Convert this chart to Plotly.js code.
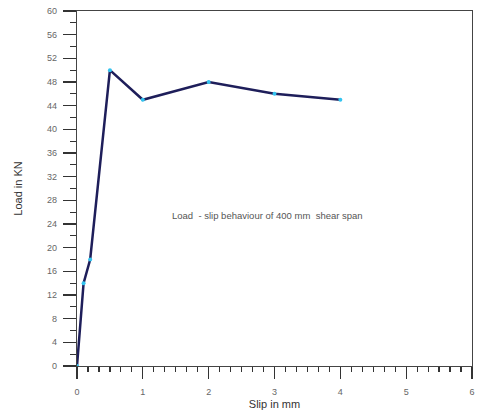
<!DOCTYPE html>
<html>
<head>
<meta charset="utf-8">
<script src="https://cdn.plot.ly/plotly-3.0.1.min.js"></script>
<style>html,body{margin:0;padding:0;background:#fff;}#chart{width:478px;height:411px;}</style>
</head>
<body>
<div id="chart"></div>
<script>
var slip = [0, 0.1, 0.2, 0.5, 1, 2, 3, 4];
var load = [0, 14, 18, 50, 45, 48, 46, 45];
var xTickVals = [0, 1, 2, 3, 4, 5, 6];
var yTickVals = [0, 4, 8, 12, 16, 20, 24, 28, 32, 36, 40, 44, 48, 52, 56, 60];

var trace = {
  x: slip, y: load, type: 'scatter', mode: 'lines+markers',
  line: {color: '#1e1e5a', width: 2.5},
  marker: {color: '#33c4f0', size: 4},
  hoverinfo: 'skip'
};

var layout = {
  width: 478, height: 411,
  margin: {l: 77, r: 6, t: 11, b: 45},
  paper_bgcolor: '#fff', plot_bgcolor: '#fff',
  showlegend: false,
  font: {family: 'Liberation Sans, Arial, sans-serif', color: '#555'},
  xaxis: {
    range: [0, 6], tickvals: xTickVals, ticktext: xTickVals.map(String),
    showgrid: false, zeroline: false,
    showline: true, linecolor: '#444', linewidth: 1.3, mirror: true,
    ticks: 'outside', ticklen: 12, tickwidth: 1.3, tickcolor: '#333',
    ticklabelstandoff: 5,
    tickfont: {size: 9, color: '#666'},
    minor: {dtick: 1/6, ticks: 'outside', ticklen: 5, tickwidth: 1.2, tickcolor: '#333', showgrid: false},
    title: {text: 'Slip in mm', font: {size: 11, color: '#333'}, standoff: 4}
  },
  yaxis: {
    range: [0, 60], tickvals: yTickVals, ticktext: yTickVals.map(String),
    showgrid: false, zeroline: false,
    showline: true, linecolor: '#444', linewidth: 1.3, mirror: true,
    ticks: 'outside', ticklen: 13, tickwidth: 1.3, tickcolor: '#333',
    ticklabelstandoff: 4,
    tickfont: {size: 9, color: '#666'},
    minor: {dtick: 2, ticks: 'outside', ticklen: 6, tickwidth: 1.2, tickcolor: '#333', showgrid: false},
    title: {text: 'Load in KN', font: {size: 11, color: '#333'}, standoff: 22}
  },
  annotations: [{
    x: 2.89, y: 25.5, xref: 'x', yref: 'y',
    text: 'Load  - slip behaviour of 400 mm  shear span',
    showarrow: false, font: {size: 9.5, color: '#555'}
  }]
};

Plotly.newPlot('chart', [trace], layout, {staticPlot: true, displayModeBar: false});
</script>
</body>
</html>
